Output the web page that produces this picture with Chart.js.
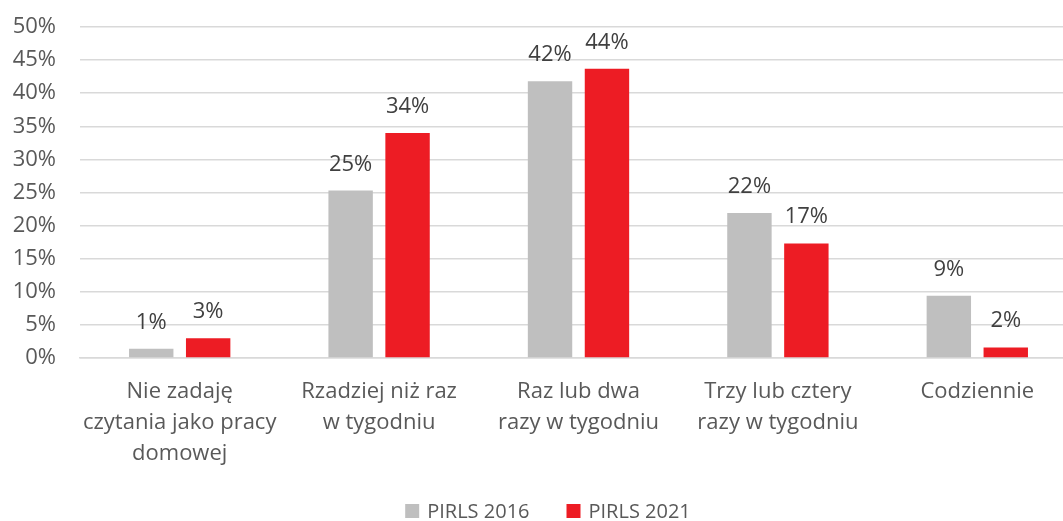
<!DOCTYPE html>
<html lang="pl">
<head>
    <meta charset="UTF-8">
    <title>PIRLS 2016 / 2021</title>
    <script src="https://cdn.jsdelivr.net/npm/chart.js"></script>
    <style>
        html, body {
            margin: 0;
            padding: 0;
            background: #ffffff;
            overflow: hidden;
        }

        .wrap {
            width: 1063px;
            height: 521px;
            overflow: hidden;
        }
    </style>
</head>
<body>
    <div class="wrap">
        <canvas id="chart" width="1096" height="521"></canvas>
    </div>

    <script>
        const categories = [
            ['Nie zadaję', 'czytania jako pracy', 'domowej'],
            ['Rzadziej niż raz', 'w tygodniu'],
            ['Raz lub dwa', 'razy w tygodniu'],
            ['Trzy lub cztery', 'razy w tygodniu'],
            'Codziennie'
        ];
        const pirls2016 = [1.4, 25.3, 41.8, 21.9, 9.4];
        const pirls2021 = [3.0, 34.0, 43.7, 17.3, 1.6];
        const seriesNames = ['PIRLS 2016', 'PIRLS 2021'];
        const seriesColors = ['#bfbfbf', '#ed1c24'];

        const FONT = "'Open Sans', sans-serif";

        // value labels above each bar, rounded to whole percent
        const barValues = {
            id: 'barValues',
            afterDatasetsDraw(chart) {
                const ctx = chart.ctx;
                ctx.save();
                ctx.font = '22px ' + FONT;
                ctx.fillStyle = '#404040';
                ctx.textAlign = 'center';
                ctx.textBaseline = 'alphabetic';
                chart.data.datasets.forEach((ds, i) => {
                    chart.getDatasetMeta(i).data.forEach((bar, j) => {
                        ctx.fillText(Math.round(ds.data[j]) + '%', bar.x, bar.y - 20);
                    });
                });
                ctx.restore();
            }
        };

        // simple legend row under the axis labels
        const bottomLegend = {
            id: 'bottomLegend',
            afterDraw(chart) {
                const ctx = chart.ctx;
                const box = 14, gap = 8, between = 37;
                const cx = 548, cy = 511;
                ctx.save();
                ctx.font = '20px ' + FONT;
                ctx.textBaseline = 'middle';
                ctx.textAlign = 'left';
                const widths = chart.data.datasets.map(ds => ctx.measureText(ds.label).width);
                let total = between * (widths.length - 1);
                widths.forEach(w => { total += box + gap + w; });
                let x = cx - total / 2;
                chart.data.datasets.forEach((ds, i) => {
                    ctx.fillStyle = ds.backgroundColor;
                    ctx.fillRect(x, cy - box / 2, box, box);
                    ctx.fillStyle = '#595959';
                    ctx.fillText(ds.label, x + box + gap, cy + 1);
                    x += box + gap + widths[i] + between;
                });
                ctx.restore();
            }
        };

        new Chart(document.getElementById('chart'), {
            type: 'bar',
            data: {
                labels: categories,
                datasets: seriesNames.map((name, i) => ({
                    label: name,
                    data: i === 0 ? pirls2016 : pirls2021,
                    backgroundColor: seriesColors[i],
                    categoryPercentage: 0.571,
                    barPercentage: 0.78
                }))
            },
            plugins: [barValues, bottomLegend],
            options: {
                responsive: false,
                animation: false,
                layout: {
                    padding: { top: 0, left: 0, right: 19, bottom: 45 }
                },
                plugins: {
                    tooltip: { enabled: false },
                    legend: { display: false }
                },
                scales: {
                    x: {
                        grid: { display: false, drawTicks: false },
                        border: { color: '#d9d9d9', width: 1.5 },
                        ticks: {
                            color: '#595959',
                            padding: 18,
                            maxRotation: 0,
                            autoSkip: false,
                            font: { family: FONT, size: 22, lineHeight: 31 / 22 }
                        },
                        afterFit(scale) {
                            scale.height = 118;
                            scale.paddingLeft = 0;
                            scale.paddingRight = 0;
                        }
                    },
                    y: {
                        min: 0,
                        max: 50,
                        border: { display: false },
                        grid: { color: '#d9d9d9', lineWidth: 1.5, drawTicks: false },
                        ticks: {
                            stepSize: 5,
                            color: '#595959',
                            padding: 24,
                            font: { family: FONT, size: 22 },
                            callback: v => v + '%'
                        },
                        afterFit(scale) {
                            scale.width = 80;
                            scale.paddingTop = 27;
                            scale.paddingBottom = 0;
                        }
                    }
                }
            }
        });
    </script>
</body>
</html>
